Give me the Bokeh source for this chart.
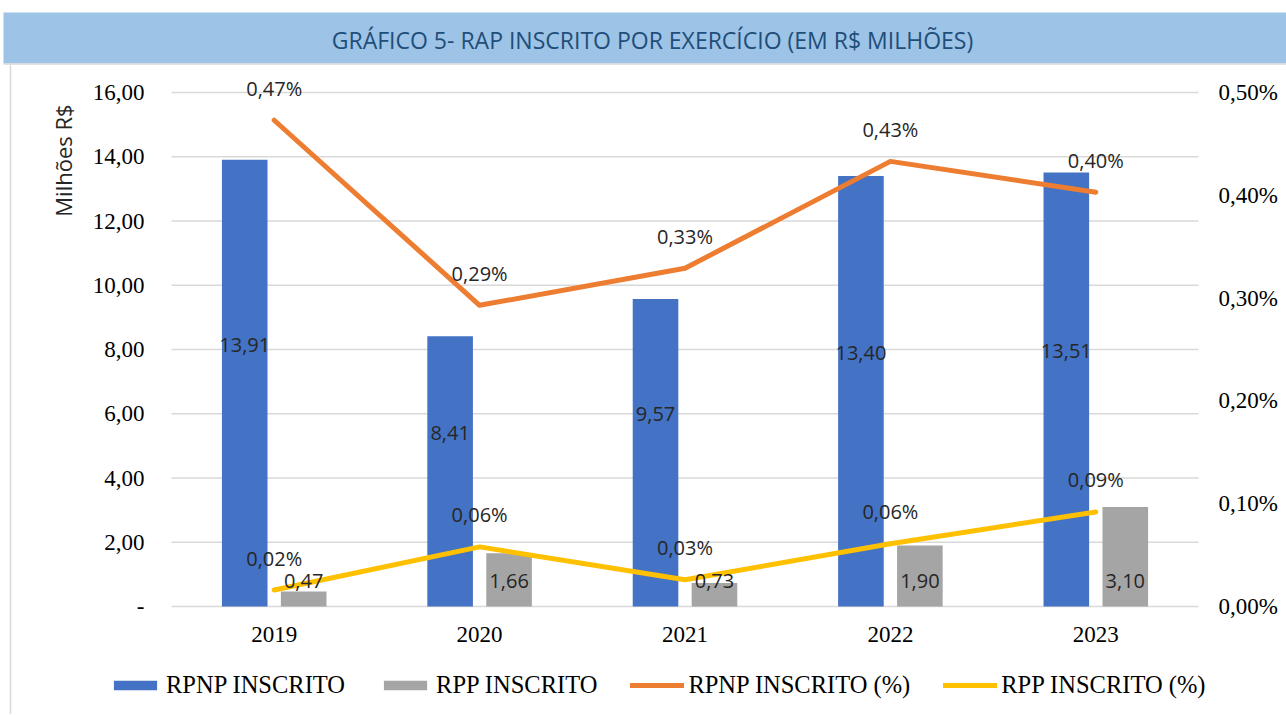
from math import pi
from bokeh.plotting import figure
from bokeh.models import (ColumnDataSource, Range1d, Legend, LegendItem, Label)
from bokeh.transform import dodge
from bokeh.embed import file_html
from bokeh.resources import INLINE
from bokeh.core.properties import value

# ---------------- data ----------------
title_text = "GRÁFICO 5- RAP INSCRITO POR EXERCÍCIO (EM R$ MILHÕES)"
years = ["2019", "2020", "2021", "2022", "2023"]
rpnp = [13.91, 8.41, 9.57, 13.40, 13.51]          # R$ milhões
rpp = [0.47, 1.66, 0.73, 1.90, 3.10]              # R$ milhões
rpnp_pct = [0.473, 0.293, 0.329, 0.433, 0.403]    # %
rpp_pct = [0.016, 0.058, 0.026, 0.061, 0.092]     # %
left_ticks = [0, 2, 4, 6, 8, 10, 12, 14, 16]
right_ticks = [0.0, 0.1, 0.2, 0.3, 0.4, 0.5]
series_names = ["RPNP INSCRITO", "RPP INSCRITO", "RPNP INSCRITO (%)", "RPP INSCRITO (%)"]
y_label = "Milhões R$"

# ---------------- style ----------------
BLUE, GRAY, ORANGE, YELLOW = "#4472C4", "#A5A5A5", "#ED7D31", "#FFC000"
GRID = "#D9D9D9"
LABEL_FONT = "Open Sans"
LABEL_COLOR = "#262626"
AXIS_FONT = "Liberation Serif"


def br(v, suffix=""):
    return f"{v:.2f}".replace(".", ",") + suffix


# canvas geometry (pixels) -> the frame covers the whole canvas
W, H = 1286, 714
PL, PR, PT, PB = 171, 1198, 92, 606      # plot area: left/right, y of top tick, y of zero
NCAT = len(years)
XU = (PR - PL) / NCAT                    # px per category
YMAX = left_ticks[-1]
YU = (PB - PT) / YMAX                    # px per R$ milhão
PCT_MAX = right_ticks[-1]
PU = (PB - PT) / PCT_MAX                 # px per pct point


def X(px):
    return -0.5 + (px - PL) / XU


def Y(py):
    return (PB - py) / YU


xs = list(range(NCAT))
src = ColumnDataSource(dict(
    x=xs,
    rpnp=rpnp,
    rpp=rpp,
    rpnp_pct=rpnp_pct,
    rpp_pct=rpp_pct,
    rpnp_lbl=[br(v) for v in rpnp],
    rpp_lbl=[br(v) for v in rpp],
    rpnp_pct_lbl=[br(v, "%") for v in rpnp_pct],
    rpp_pct_lbl=[br(v, "%") for v in rpp_pct],
    rpnp_lbl_y=[v / 2 + 1.2 for v in rpnp],
    rpp_lbl_y=[0.8 for _ in rpp],
    rpnp_pct_lbl_y=[v + 32 / PU for v in rpnp_pct],
    rpp_pct_lbl_y=[v + 32 / PU for v in rpp_pct],
))

p = figure(width=W, height=H, output_backend="svg", toolbar_location=None,
           x_range=Range1d(X(0), X(W)), y_range=Range1d(Y(H), Y(0)),
           x_axis_location=None, y_axis_location=None, min_border=0, title=None)
p.grid.visible = False
p.outline_line_color = None
p.background_fill_color = "white"
p.border_fill_color = "white"
p.extra_y_ranges = {"pct": Range1d(Y(H) * PCT_MAX / YMAX, Y(0) * PCT_MAX / YMAX)}

# ---- title band & chart border ----
p.quad(left=[X(3)], right=[X(W + 5)], top=[Y(12)], bottom=[Y(63)],
       fill_color="#9DC3E6", line_color=None)
p.segment(x0=[X(3)], x1=[X(W + 5)], y0=[Y(63.5)], y1=[Y(63.5)],
          line_color=GRID, line_width=1.5)
p.segment(x0=[X(10)], x1=[X(10)], y0=[Y(63)], y1=[Y(H + 5)],
          line_color=GRID, line_width=1.5)
p.text(x=[X(652)], y=[Y(39)], text=[title_text], text_font=value(LABEL_FONT),
       text_font_size="23px", text_color="#1F4E79", text_align="center",
       text_baseline="middle")

# ---- gridlines (left axis ticks) ----
p.segment(x0=[-0.5] * len(left_ticks), x1=[NCAT - 0.5] * len(left_ticks),
          y0=left_ticks, y1=left_ticks, line_color=GRID, line_width=1.5)

# ---- axes tick labels ----
axis_kw = dict(text_font=value(AXIS_FONT), text_font_size="23px", text_color="black",
               text_baseline="middle")
p.text(x=[-0.5] * len(left_ticks), y=left_ticks,
       text=["-" if t == 0 else br(t) for t in left_ticks],
       x_offset=-27, text_align="right", **axis_kw)
p.text(x=[NCAT - 0.5] * len(right_ticks), y=right_ticks,
       text=[br(t, "%") for t in right_ticks], y_range_name="pct",
       x_offset=20, text_align="left", **axis_kw)
p.text(x=xs, y=[-28 / YU] * NCAT, text=years, text_align="center", **axis_kw)

# ---- y-axis title ----
p.add_layout(Label(x=X(62), y=Y(160), text=y_label, angle=pi / 2,
                   text_align="center", text_baseline="middle",
                   text_font=LABEL_FONT, text_font_size="22px",
                   text_color=LABEL_COLOR))

# ---- series ----
b1 = p.vbar(x=dodge("x", -0.1435, range=p.x_range), top="rpnp", width=0.222,
            source=src, fill_color=BLUE, line_color=None)
b2 = p.vbar(x=dodge("x", 0.1435, range=p.x_range), top="rpp", width=0.222,
            source=src, fill_color=GRAY, line_color=None)
l1 = p.line(x="x", y="rpnp_pct", y_range_name="pct", source=src, line_width=5,
            line_color=ORANGE, line_cap="round", line_join="round")
l2 = p.line(x="x", y="rpp_pct", y_range_name="pct", source=src, line_width=5,
            line_color=YELLOW, line_cap="round", line_join="round")

lbl_kw = dict(source=src, text_font=value(LABEL_FONT), text_font_size="20px",
              text_color=LABEL_COLOR, text_align="center", text_baseline="middle")
p.text(x=dodge("x", -0.1435, range=p.x_range), y="rpnp_lbl_y", text="rpnp_lbl", **lbl_kw)
p.text(x=dodge("x", 0.1435, range=p.x_range), y="rpp_lbl_y", text="rpp_lbl", **lbl_kw)
p.text(x="x", y="rpnp_pct_lbl_y", text="rpnp_pct_lbl", y_range_name="pct", **lbl_kw)
p.text(x="x", y="rpp_pct_lbl_y", text="rpp_pct_lbl", y_range_name="pct", **lbl_kw)

# ---- legend ----
legend = Legend(items=[LegendItem(label=series_names[0], renderers=[b1]),
                       LegendItem(label=series_names[1], renderers=[b2]),
                       LegendItem(label=series_names[2], renderers=[l1]),
                       LegendItem(label=series_names[3], renderers=[l2])],
                orientation="horizontal", location=(108, 15),
                glyph_width=54, glyph_height=12, label_standoff=4, spacing=33,
                padding=0, margin=0, border_line_color=None,
                background_fill_alpha=0, label_text_font=AXIS_FONT,
                label_text_font_size="24.5px", label_text_color="black")
p.add_layout(legend)

open("out.html", "w").write(file_html(p, INLINE))
